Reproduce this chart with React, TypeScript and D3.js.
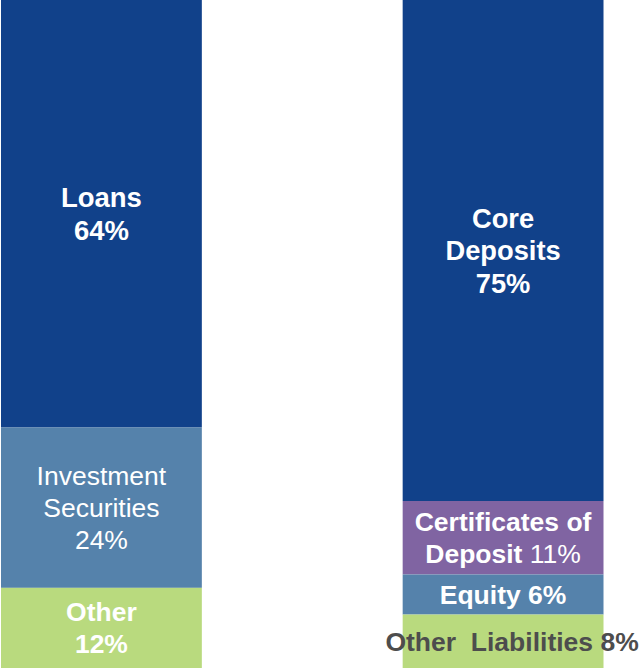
import React from "react";
import * as d3 from "d3";

const categories = ["Assets", "Liabilities"];
const assetLabels = ["Loans", "Investment Securities", "Other"];
const assetValues = [64, 24, 12];
const liabilityLabels = ["Core Deposits", "Certificates of Deposit", "Equity", "Other Liabilities"];
const liabilityValues = [75, 11, 6, 8];

const W = 641;
const H = 668;

type Part = { t: string; bold: boolean };
type LabelSpec = { lines: Part[][]; color: string; dx?: number; fs?: number; lh?: number };

const labelLayout: Record<string, LabelSpec> = {
  Loans: { lines: [[{ t: "Loans", bold: true }], [{ t: "64%", bold: true }]], color: "#fff", fs: 27.5, lh: 33.5 },
  "Investment Securities": {
    lines: [[{ t: "Investment", bold: false }], [{ t: "Securities", bold: false }], [{ t: "24%", bold: false }]],
    color: "#fff",
  },
  Other: { lines: [[{ t: "Other", bold: true }], [{ t: "12%", bold: true }]], color: "#fff" },
  "Core Deposits": {
    lines: [[{ t: "Core", bold: true }], [{ t: "Deposits", bold: true }], [{ t: "75%", bold: true }]],
    color: "#fff",
    fs: 27.3,
    lh: 32.5,
  },
  "Certificates of Deposit": {
    lines: [
      [{ t: "Certificates of", bold: true }],
      [{ t: "Deposit ", bold: true }, { t: "11%", bold: false }],
    ],
    color: "#fff",
  },
  Equity: { lines: [[{ t: "Equity 6%", bold: true }]], color: "#fff" },
  "Other Liabilities": {
    lines: [[{ t: "Other\u00a0\u00a0Liabilities 8%", bold: true }]],
    color: "#4d4d4d",
    dx: 9,
  },
};

const colorMap: Record<string, string> = {
  Loans: "#11418a",
  "Investment Securities": "#5582ab",
  Other: "#b9da7e",
  "Core Deposits": "#11418a",
  "Certificates of Deposit": "#8064a2",
  Equity: "#5582ab",
  "Other Liabilities": "#b9da7e",
};

export default function App() {
  const x = d3.scaleBand<string>().domain(categories).range([1, 603.5]).paddingInner(0.5).paddingOuter(0);
  const y = d3.scaleLinear().domain([0, 100]).range([H, 0]);

  const series = [
    { cat: categories[0], labels: assetLabels, values: assetValues },
    { cat: categories[1], labels: liabilityLabels, values: liabilityValues },
  ];

  const baseFs = 26.5;
  const baseLh = 32;

  return (
    <svg
      width={W}
      height={H}
      style={{ position: "absolute", left: 0, top: 0, display: "block" }}
      fontFamily="'Liberation Sans', Arial, sans-serif"
    >
      <rect width={W} height={H} fill="#fff" />
      {series.map((s) => {
        const total = d3.sum(s.values);
        let cum = 0;
        const bx = x(s.cat)!;
        const bw = x.bandwidth();
        return (
          <g key={s.cat}>
            {s.labels.map((lab, i) => {
              const vTop = total - cum;
              const vBot = total - cum - s.values[i];
              cum += s.values[i];
              const y0 = y(vTop);
              const y1 = y(vBot);
              const cy = (y0 + y1) / 2;
              const spec = labelLayout[lab];
              const n = spec.lines.length;
              const fs = spec.fs || baseFs;
              const lh = spec.lh || baseLh;
              return (
                <g key={lab}>
                  <rect x={bx} y={y0} width={bw} height={y1 - y0} fill={colorMap[lab]} />
                  {spec.lines.map((line, li) => (
                    <text
                      key={li}
                      x={bx + bw / 2 + (spec.dx || 0)}
                      y={cy + (li - (n - 1) / 2) * lh + fs * 0.35}
                      textAnchor="middle"
                      fontSize={fs}
                      fill={spec.color}
                      style={{ whiteSpace: "pre" }}
                    >
                      {line.map((p, pi) => (
                        <tspan key={pi} fontWeight={p.bold ? "bold" : "normal"}>
                          {p.t}
                        </tspan>
                      ))}
                    </text>
                  ))}
                </g>
              );
            })}
          </g>
        );
      })}
    </svg>
  );
}
